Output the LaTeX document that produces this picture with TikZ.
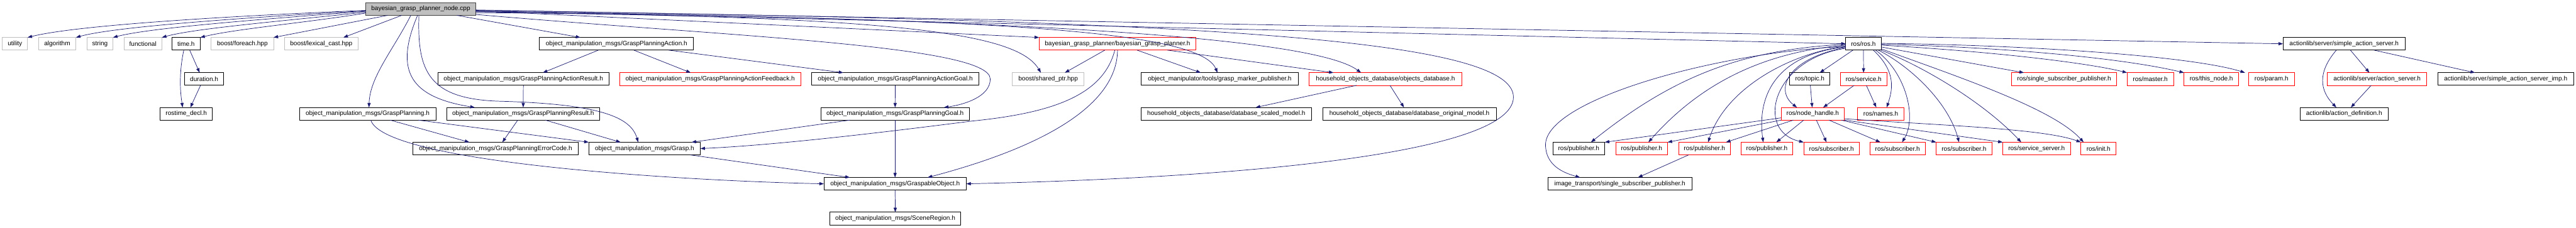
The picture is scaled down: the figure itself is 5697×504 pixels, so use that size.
\documentclass[tikz,border=0pt]{standalone}
\usepackage{fontspec}
\setmainfont{Liberation Sans}
\usetikzlibrary{arrows.meta}
\definecolor{depblue}{HTML}{191970}
\definecolor{sysgray}{HTML}{BFBFBF}
\begin{document}
\begin{tikzpicture}[x=1pt,y=-1pt,font=\fontsize{14}{16}\selectfont,
  box/.style={draw,line width=1pt,minimum height=28,inner sep=0pt,outer sep=0pt,minimum width=#1},
  hdr/.style={box=#1,draw=black,line width=1.2pt},
  syshdr/.style={box=#1,draw=sysgray},
  nodoc/.style={box=#1,draw=red},
  mainfile/.style={box=#1,draw=black!75,fill=sysgray,line width=1.2pt},
  dep/.style={draw=depblue,line width=1pt,-{Triangle[length=10pt,width=7pt]}}]
\path[use as bounding box] (0,0) rectangle (5697,504);
% row 0 and row 1
\node[mainfile=243] (main) at (930.5,20) {bayesian\_grasp\_planner\_node.cpp};
\node[syshdr=56] (utility) at (33,97) {utility};
\node[syshdr=83] (algorithm) at (126.5,97) {algorithm};
\node[syshdr=58] (string) at (221,97) {string};
\node[syshdr=84] (functional) at (316,97) {functional};
\node[hdr=63] (timeh) at (411.5,97) {time.h};
\node[syshdr=138] (foreach) at (536,97) {boost/foreach.hpp};
\node[syshdr=163] (lexcast) at (710.5,97) {boost/lexical\_cast.hpp};
\node[hdr=341] (gpaction) at (1363.5,97) {object\_manipulation\_msgs/GraspPlanningAction.h};
\node[nodoc=347] (bayes) at (2471.5,97) {bayesian\_grasp\_planner/bayesian\_grasp\_planner.h};
\node[hdr=78] (rosh) at (4121,97) {ros/ros.h};
\node[hdr=270] (sas) at (5184,97) {actionlib/server/simple\_action\_server.h};
% row 2
\node[hdr=87] (duration) at (451.5,175) {duration.h};
\node[hdr=379] (actresult) at (1157.5,175) {object\_manipulation\_msgs/GraspPlanningActionResult.h};
\node[nodoc=401] (actfeedback) at (1570.5,175) {object\_manipulation\_msgs/GraspPlanningActionFeedback.h};
\node[hdr=370] (actgoal) at (1980,175) {object\_manipulation\_msgs/GraspPlanningActionGoal.h};
\node[syshdr=158] (shptr) at (2318,175) {boost/shared\_ptr.hpp};
\node[hdr=349] (marker) at (2697.5,175) {object\_manipulator/tools/grasp\_marker\_publisher.h};
\node[nodoc=338] (objdb) at (3064,175) {household\_objects\_database/objects\_database.h};
\node[hdr=89] (topic) at (4002.5,175) {ros/topic.h};
\node[nodoc=103] (service) at (4121.5,175) {ros/service.h};
\node[nodoc=232] (ssp) at (4565,175) {ros/single\_subscriber\_publisher.h};
\node[nodoc=103] (master) at (4755.5,175) {ros/master.h};
\node[nodoc=121] (thisnode) at (4890.5,175) {ros/this\_node.h};
\node[nodoc=101] (param) at (5023.5,175) {ros/param.h};
\node[nodoc=220] (acsrv) at (5257,175) {actionlib/server/action\_server.h};
\node[hdr=301] (sasimp) at (5541.5,175) {actionlib/server/simple\_action\_server\_imp.h};
% row 3
\node[hdr=116] (rostime) at (412,252) {rostime\_decl.h};
\node[hdr=302] (gplan) at (813,252) {object\_manipulation\_msgs/GraspPlanning.h};
\node[hdr=338] (gpresult) at (1157,252) {object\_manipulation\_msgs/GraspPlanningResult.h};
\node[hdr=329] (gpgoal) at (1979.5,252) {object\_manipulation\_msgs/GraspPlanningGoal.h};
\node[hdr=378] (scaled) at (2712,252) {household\_objects\_database/database\_scaled\_model.h};
\node[hdr=384] (original) at (3117,252) {household\_objects\_database/database\_original\_model.h};
\node[nodoc=140] (nh) at (4009,252) {ros/node\_handle.h};
\node[nodoc=103] (names) at (4159.5,252) {ros/names.h};
\node[hdr=194] (acdef) at (5184,252) {actionlib/action\_definition.h};
% row 4
\node[hdr=366] (errcode) at (1096,329) {object\_manipulation\_msgs/GraspPlanningErrorCode.h};
\node[hdr=247] (grasp) at (1425.5,329) {object\_manipulation\_msgs/Grasp.h};
\node[hdr=115] (pubA) at (3491.5,329) {ros/publisher.h};
\node[nodoc=115] (pubB) at (3630.5,329) {ros/publisher.h};
\node[nodoc=115] (pubC) at (3769.5,329) {ros/publisher.h};
\node[nodoc=115] (pubD) at (3907.5,329) {ros/publisher.h};
\node[nodoc=123] (subA) at (4050.5,329) {ros/subscriber.h};
\node[nodoc=123] (subB) at (4196.5,329) {ros/subscriber.h};
\node[nodoc=123] (subC) at (4343.5,329) {ros/subscriber.h};
\node[nodoc=150] (srvsrv) at (4504,329) {ros/service\_server.h};
\node[nodoc=78] (init) at (4641,329) {ros/init.h};
% rows 5 and 6
\node[hdr=315] (gobj) at (1979.5,407) {object\_manipulation\_msgs/GraspableObject.h};
\node[hdr=319] (imgt) at (3582.5,407) {image\_transport/single\_subscriber\_publisher.h};
\node[hdr=290] (scene) at (1980,484) {object\_manipulation\_msgs/SceneRegion.h};
% main file
\draw[dep] ([yshift=-3pt]main.west) .. controls (450,38) and (160,58) .. (utility.north east);
\draw[dep] ([yshift=-4pt]main.west) .. controls (520,40) and (250,60) .. (algorithm.north east);
\draw[dep] ([yshift=-5pt]main.west) .. controls (560,44) and (330,62) .. (string.north east);
\draw[dep] ([yshift=-7pt]main.west) .. controls (620,47) and (430,63) .. (functional.north east);
\draw[dep] ([yshift=-9pt]main.west) .. controls (680,50) and (520,64) .. (timeh.north east);
\draw[dep] ([xshift=-73pt]main.south) -- (foreach.north east);
\draw[dep] ([xshift=-42pt]main.south) -- ([xshift=49pt]lexcast.north);
\draw[dep] ([xshift=-22pt]main.south) .. controls (870,110) and (818,170) .. ([xshift=3pt]gplan.north);
\draw[dep] ([xshift=-7pt]main.south) .. controls (870,160) and (910,215) .. ([xshift=-107pt]gpresult.north);
\draw[dep] ([xshift=-4pt]main.south) .. controls (922,160) and (950,218) .. (1100,224) .. controls (1330,230) and (1395,260) .. ([xshift=-14pt]grasp.north);
\draw[dep] ([xshift=80pt]main.south) -- ([xshift=-80pt]gpaction.north);
\draw[dep] ([yshift=-12pt]main.east) .. controls (1600,80) and (2190,100) .. (2190,175) .. controls (2190,215) and (2130,232) .. ([xshift=108pt]gpgoal.north);
\draw[dep] ([yshift=-8pt]main.east) .. controls (2000,35) and (2250,75) .. ([xshift=-16pt]shptr.north);
\draw[dep] ([yshift=-4pt]main.east) -- (bayes.north west);
\draw[dep] ([yshift=-6pt]main.east) .. controls (2100,40) and (2650,60) .. ([xshift=-5pt]marker.north);
\draw[dep] ([yshift=-5pt]main.east) .. controls (2200,40) and (2900,80) .. ([xshift=-54pt]objdb.north);
\draw[dep] ([yshift=-3pt]main.east) .. controls (2600,45) and (3347,80) .. (3347,215) .. controls (3347,345) and (2700,395) .. (gobj.east);
\draw[dep] ([yshift=-2pt]main.east) -- (sas.west);
\draw[dep] ([yshift=-4pt]main.east) -- (rosh.west);
% grasp planner headers
\draw[dep] ([xshift=-28pt]bayes.south) -- ([xshift=37pt]shptr.north);
\draw[dep] ([xshift=43pt]bayes.south) -- ([xshift=-42pt]marker.north);
\draw[dep] ([xshift=110pt]bayes.south) -- ([xshift=-115pt]objdb.north);
\draw[dep] ([xshift=-6pt]bayes.south) .. controls (2440,210) and (2330,250) .. (2150,268) .. controls (1900,300) and (1700,322) .. (grasp.east);
\draw[dep] (bayes.south) .. controls (2470,240) and (2290,330) .. ([xshift=72pt]gobj.north);
\draw[dep] ([xshift=-40pt]gpaction.south) -- ([xshift=43pt]actresult.north);
\draw[dep] ([xshift=38pt]gpaction.south) -- ([xshift=-43pt]actfeedback.north);
\draw[dep] ([xshift=115pt]gpaction.south) -- ([xshift=-115pt]actgoal.north);
\draw[dep] (actresult) -- (gpresult);
\draw[dep] (actgoal) -- (gpgoal);
\draw[dep] ([xshift=-12pt]gpresult.south) -- ([xshift=15pt]errcode.north);
\draw[dep] ([xshift=49pt]gpresult.south) -- ([xshift=-53pt]grasp.north);
\draw[dep] ([xshift=50pt]gplan.south) -- ([xshift=-58pt]errcode.north);
\draw[dep] ([xshift=112pt]gplan.south) -- (grasp.north west);
\draw[dep] ([xshift=7pt]gplan.south) .. controls (850,360) and (1500,400) .. (gobj.west);
\draw[dep] ([xshift=-100pt]gpgoal.south) -- ([xshift=104pt]grasp.north);
\draw[dep] (gpgoal) -- (gobj);
\draw[dep] ([xshift=101pt]grasp.south) -- ([xshift=-100pt]gobj.north);
\draw[dep] (gobj) -- (scene);
\draw[dep] ([xshift=-64pt]objdb.south) -- ([xshift=65pt]scaled.north);
\draw[dep] ([xshift=10pt]objdb.south) -- ([xshift=-12pt]original.north);
% time
\draw[dep] ([xshift=8pt]timeh.south) -- ([xshift=-10pt]duration.north);
\draw[dep] ([xshift=-5pt]timeh.south) .. controls (396,160) and (398,200) .. ([xshift=-8pt]rostime.north);
\draw[dep] ([xshift=-8pt]duration.south) -- ([xshift=9pt]rostime.north);
% ros
\draw[dep] ([xshift=-23pt]rosh.south) -- ([xshift=22pt]topic.north);
\draw[dep] (rosh) -- (service);
\draw[dep] ([yshift=-8pt]rosh.west) .. controls (3950,130) and (3925,200) .. ([xshift=-35pt]nh.north);
\draw[dep] ([xshift=22pt]rosh.south) .. controls (4195,160) and (4185,200) .. ([xshift=13pt]names.north);
\draw[dep] ([yshift=-1pt]rosh.west) .. controls (3850,110) and (3700,170) .. ([xshift=27pt]pubA.north);
\draw[dep] ([yshift=-3pt]rosh.west) .. controls (3900,115) and (3760,185) .. ([xshift=15pt]pubB.north);
\draw[dep] ([yshift=-5pt]rosh.west) .. controls (3950,120) and (3815,200) .. ([xshift=8pt]pubC.north);
\draw[dep] ([yshift=-7pt]rosh.west) .. controls (3930,120) and (3885,210) .. ([xshift=-8pt]pubD.north);
\draw[dep] ([yshift=-10pt]rosh.west) .. controls (3920,130) and (3880,290) .. (subA.north west);
\draw[dep] ([xshift=27pt]rosh.south) .. controls (4215,160) and (4240,260) .. ([xshift=10pt]subB.north);
\draw[dep] ([xshift=33pt]rosh.south) .. controls (4230,150) and (4310,230) .. ([xshift=-11pt]subC.north);
\draw[dep] (rosh.south east) .. controls (4260,150) and (4390,230) .. ([xshift=-34pt]srvsrv.north);
\draw[dep] ([yshift=3pt]rosh.south east) .. controls (4330,170) and (4540,240) .. ([xshift=-33pt]init.north);
\draw[dep] ([yshift=-7pt]rosh.east) -- ([xshift=-89pt]ssp.north);
\draw[dep] ([yshift=-3pt]rosh.east) .. controls (4420,115) and (4620,140) .. (master.north west);
\draw[dep] ([yshift=-1pt]rosh.east) .. controls (4450,105) and (4700,130) .. (thisnode.north west);
\draw[dep] ([yshift=1pt]rosh.east) .. controls (4500,100) and (4850,125) .. ([xshift=-8pt]param.north west);
\draw[dep] ([yshift=-6pt]rosh.west) .. controls (3800,115) and (3420,220) .. (3418,320) .. controls (3418,365) and (3455,382) .. ([xshift=-88pt]imgt.north);
\draw[dep] (topic) -- (nh);
\draw[dep] ([xshift=-21pt]service.south) -- ([xshift=23pt]nh.north);
\draw[dep] ([xshift=6pt]service.south) -- ([xshift=-10pt]names.north);
\draw[dep] ([yshift=5pt]nh.south west) -- (pubA.north east);
\draw[dep] (nh.south west) -- (pubB.north east);
\draw[dep] ([xshift=27pt]nh.south west) -- ([xshift=-10pt]pubC.north east);
\draw[dep] ([xshift=50pt]nh.south west) -- ([xshift=21pt]pubD.north);
\draw[dep] ([xshift=8pt]nh.south) -- ([xshift=-11pt]subA.north);
\draw[dep] ([xshift=36pt]nh.south) -- ([xshift=-38pt]subB.north);
\draw[dep] ([xshift=63pt]nh.south) -- (subC.north west);
\draw[dep] (nh.south east) -- (srvsrv.north west);
\draw[dep] ([yshift=3pt]nh.south east) .. controls (4300,278) and (4520,285) .. (init.north west);
\draw[dep] ([xshift=-35pt]pubC.south) -- ([xshift=40pt]imgt.north);
% actionlib
\draw[dep] ([xshift=-17pt]sas.south) .. controls (5125,160) and (5130,200) .. ([xshift=-17pt]acdef.north);
\draw[dep] ([xshift=14pt]sas.south) -- ([xshift=-17pt]acsrv.north);
\draw[dep] ([xshift=66pt]sas.south) -- ([xshift=-68pt]sasimp.north);
\draw[dep] ([xshift=-13pt]acsrv.south) -- ([xshift=15pt]acdef.north);
\end{tikzpicture}
\end{document}
